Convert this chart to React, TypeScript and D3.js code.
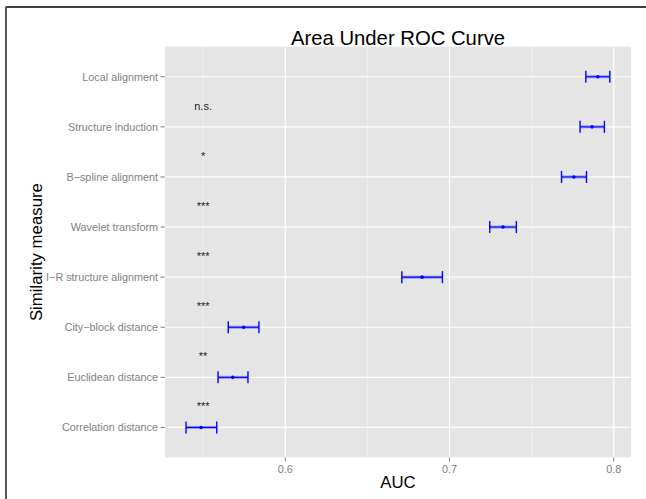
import React from "react";
import * as d3 from "d3";

const categories = [
  "Local alignment",
  "Structure induction",
  "B\u2212spline alignment",
  "Wavelet transform",
  "I\u2212R structure alignment",
  "City\u2212block distance",
  "Euclidean distance",
  "Correlation distance",
];
const aucMean = [0.7903, 0.7868, 0.7757, 0.7326, 0.6833, 0.5747, 0.568, 0.5487];
const aucLow = [0.783, 0.7795, 0.7682, 0.7245, 0.671, 0.5653, 0.5591, 0.5396];
const aucHigh = [0.7976, 0.7943, 0.7834, 0.7407, 0.6957, 0.584, 0.5773, 0.5583];
// significance labels between consecutive categories (top to bottom)
const sigLabels = ["n.s.", "*", "***", "***", "***", "**", "***"];
const sigX = 0.55;
const majorTicks = [0.6, 0.7, 0.8];
const minorTicks = [0.55, 0.65, 0.75];
const xDomain = [0.5268, 0.8105];

const W = 646;
const H = 499;
const panel = { left: 165, right: 631, top: 46.7, bottom: 457.5 };
const FONT = "'Liberation Sans', Arial, Helvetica, sans-serif";

export default function App() {
  const x = d3.scaleLinear().domain(xDomain).range([panel.left, panel.right]);
  const y = d3
    .scalePoint<string>()
    .domain(categories)
    .range([panel.top, panel.bottom])
    .padding(0.6);
  const cx = (panel.left + panel.right) / 2;
  const cy = (panel.top + panel.bottom) / 2;
  const cap = 6;

  return (
    <svg
      width={W}
      height={H}
      style={{ position: "absolute", left: 0, top: 0, background: "#fff" }}
      fontFamily={FONT}
    >
      {/* outer border */}
      <line x1={6} x2={W} y1={7} y2={7} stroke="#000" strokeWidth={1.6} />
      <line x1={6} x2={6} y1={6.5} y2={H} stroke="#555" strokeWidth={2} />

      {/* panel */}
      <rect
        x={panel.left}
        y={panel.top}
        width={panel.right - panel.left}
        height={panel.bottom - panel.top}
        fill="#E5E5E5"
      />
      {minorTicks.map((t) => (
        <line
          key={"mn" + t}
          x1={x(t)}
          x2={x(t)}
          y1={panel.top}
          y2={panel.bottom}
          stroke="#F2F2F2"
          strokeWidth={0.8}
        />
      ))}
      {majorTicks.map((t) => (
        <line
          key={"mj" + t}
          x1={x(t)}
          x2={x(t)}
          y1={panel.top}
          y2={panel.bottom}
          stroke="#fff"
          strokeWidth={1.2}
        />
      ))}
      {categories.map((c) => (
        <line
          key={"hg" + c}
          x1={panel.left}
          x2={panel.right}
          y1={y(c)}
          y2={y(c)}
          stroke="#fff"
          strokeWidth={1.2}
        />
      ))}

      {/* significance annotations */}
      {sigLabels.map((s, i) => {
        const mid = ((y(categories[i]) as number) + (y(categories[i + 1]) as number)) / 2;
        return (
          <text
            key={"sig" + i}
            x={x(sigX)}
            y={mid + 8}
            textAnchor="middle"
            fontSize={11}
            fill="#222"
          >
            {s}
          </text>
        );
      })}

      {/* error bars */}
      {categories.map((c, i) => {
        const yy = y(c) as number;
        return (
          <g key={"eb" + c}>
            <line
              x1={x(aucLow[i])}
              x2={x(aucHigh[i])}
              y1={yy}
              y2={yy}
              stroke="rgba(0,0,255,0.35)"
              strokeWidth={3}
            />
            <line
              x1={x(aucLow[i])}
              x2={x(aucHigh[i])}
              y1={yy}
              y2={yy}
              stroke="#0000ff"
              strokeWidth={1.1}
            />
            <line
              x1={x(aucLow[i])}
              x2={x(aucLow[i])}
              y1={yy - cap}
              y2={yy + cap}
              stroke="#0000ff"
              strokeWidth={1.4}
            />
            <line
              x1={x(aucHigh[i])}
              x2={x(aucHigh[i])}
              y1={yy - cap}
              y2={yy + cap}
              stroke="#0000ff"
              strokeWidth={1.4}
            />
            <circle cx={x(aucMean[i])} cy={yy} r={1.8} fill="#0000ff" />
          </g>
        );
      })}

      {/* y axis */}
      {categories.map((c) => (
        <g key={"yt" + c}>
          <line
            x1={panel.left - 4.5}
            x2={panel.left}
            y1={y(c)}
            y2={y(c)}
            stroke="#7F7F7F"
            strokeWidth={1}
          />
          <text
            x={panel.left - 7}
            y={(y(c) as number) + 3.8}
            textAnchor="end"
            fontSize={10.8}
            fill="#7F7F7F"
          >
            {c}
          </text>
        </g>
      ))}

      {/* x axis */}
      {majorTicks.map((t) => (
        <g key={"xt" + t}>
          <line
            x1={x(t)}
            x2={x(t)}
            y1={panel.bottom}
            y2={panel.bottom + 4}
            stroke="#7F7F7F"
            strokeWidth={1}
          />
          <text x={x(t)} y={472.5} textAnchor="middle" fontSize={10.8} fill="#7F7F7F">
            {d3.format(".1f")(t)}
          </text>
        </g>
      ))}

      {/* titles */}
      <text x={cx} y={45} textAnchor="middle" fontSize={20.3} fill="#000">
        Area Under ROC Curve
      </text>
      <text x={cx} y={488} textAnchor="middle" fontSize={16.8} fill="#000">
        AUC
      </text>
      <text
        transform={`translate(41.5,${cy}) rotate(-90)`}
        textAnchor="middle"
        fontSize={16.8}
        fill="#000"
      >
        Similarity measure
      </text>
    </svg>
  );
}
